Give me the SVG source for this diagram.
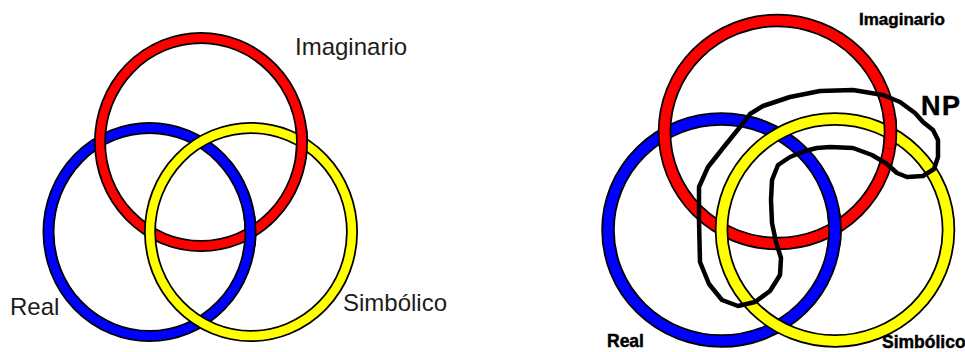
<svg xmlns="http://www.w3.org/2000/svg" xmlns:xlink="http://www.w3.org/1999/xlink" width="965" height="352" viewBox="0 0 965 352">
<style>
.o{fill:none;stroke:#000}
.L{stroke-width:12}
.Lc{stroke-width:8.5}
.R{stroke-width:13.5}
.Rc{stroke-width:10}
.red{fill:none;stroke:#ff0000}
.blue{fill:none;stroke:#0000ff}
.yel{fill:none;stroke:#ffff00}
.tl{font-family:"Liberation Sans",Arial,sans-serif;font-size:24px;fill:#1c1c1c}
.tr{font-family:"Liberation Sans",Arial,sans-serif;font-weight:bold;fill:#000;stroke:#000;stroke-width:0.45}
.np{fill:none;stroke:#000;stroke-width:4.5;stroke-linejoin:round;stroke-linecap:round}
</style>
<defs>
<clipPath id="cL1"><circle cx="252" cy="231" r="16"/></clipPath>
<clipPath id="cL2"><circle cx="303" cy="144" r="16"/></clipPath>
<clipPath id="cR1"><circle cx="834.5" cy="229.6" r="17"/></clipPath>
<clipPath id="cR2"><circle cx="890" cy="131.6" r="17"/></clipPath>
</defs>
<rect width="965" height="352" fill="#fff"/>

<!-- Left diagram -->
<g id="left-real">
<ellipse class="o L" cx="149.5" cy="232" rx="101" ry="104"/>
<ellipse class="blue Lc" cx="149.5" cy="232" rx="101" ry="104"/>
</g>
<g id="left-imaginario">
<ellipse class="o L" cx="201" cy="142" rx="101" ry="104"/>
<ellipse class="red Lc" cx="201" cy="142" rx="101" ry="104"/>
</g>
<g id="left-simbolico">
<ellipse class="o L" cx="251" cy="232" rx="101" ry="104"/>
<ellipse class="yel Lc" cx="251" cy="232" rx="101" ry="104"/>
</g>
<g id="left-crossings">
<use href="#left-real" xlink:href="#left-real" clip-path="url(#cL1)"/>
<use href="#left-imaginario" xlink:href="#left-imaginario" clip-path="url(#cL2)"/>
</g>
<g id="left-labels">
<text class="tl" x="295" y="55">Imaginario</text>
<text class="tl" x="10" y="315">Real</text>
<text class="tl" x="343" y="311">Simbólico</text>
</g>

<!-- Right diagram -->
<g id="right-real">
<ellipse class="o R" cx="721.5" cy="230" rx="113.5" ry="111"/>
<ellipse class="blue Rc" cx="721.5" cy="230" rx="113.5" ry="111"/>
</g>
<g id="right-imaginario">
<ellipse class="o R" cx="777.5" cy="132" rx="113" ry="111.5"/>
<ellipse class="red Rc" cx="777.5" cy="132" rx="113" ry="111.5"/>
</g>
<g id="right-simbolico">
<ellipse class="o R" cx="835" cy="230" rx="113.5" ry="111"/>
<ellipse class="yel Rc" cx="835" cy="230" rx="113.5" ry="111"/>
</g>
<g id="right-crossings">
<use href="#right-real" xlink:href="#right-real" clip-path="url(#cR1)"/>
<use href="#right-imaginario" xlink:href="#right-imaginario" clip-path="url(#cR2)"/>
</g>
<g id="np-loop">
<path class="np" d="M740,127 L750,114 L763,106 L790,97 L820,91 L853,90 L883,95 L900,102 L915,113 L923,122 L933,130 L938,140 L938,157 L934,169 L923,176 L907,177 L897,173 L887,164 L872,155 L853,148 L830,147 L817,148 L805,151 L790,157 L778,165 L772,180 L771,200 L772,223 L776,242 L781,258 L780,275 L770,291 L755,302 L738,306 L722,300 L709,284 L700,262 L699,220 L699,187 L708,167 L727,143 Z"/>
</g>
<g id="right-labels">
<text class="tr" x="859" y="25" font-size="17">Imaginario</text>
<text class="tr" x="921" y="115" font-size="27" letter-spacing="1.5" stroke-width="0.9">NP</text>
<text class="tr" x="607" y="347" font-size="17.5">Real</text>
<text class="tr" x="882" y="348" font-size="17.5">Simbólico</text>
</g>
</svg>
